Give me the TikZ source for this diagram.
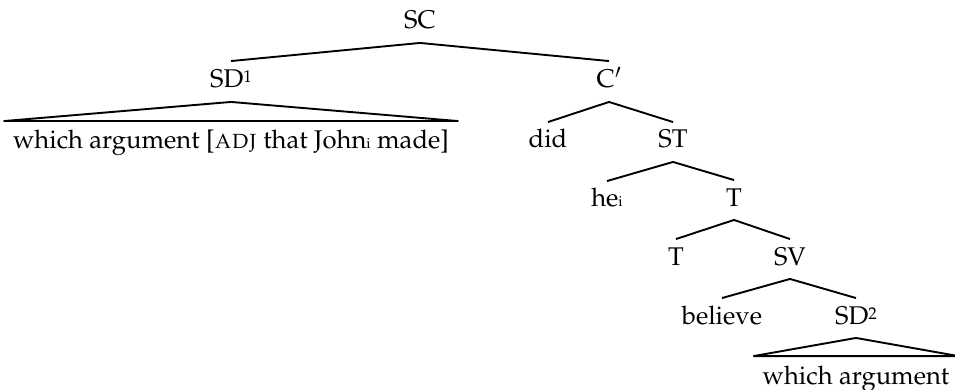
\documentclass[tikz,border=0pt]{standalone}
\usepackage[T1]{fontenc}
\usepackage{mathpazo}
\newcommand\idx[1]{{\fontsize{14.5}{14.5}\selectfont #1}}
\newcommand\supnum[1]{\raisebox{5pt}{\fontsize{17}{17}\selectfont #1}}
\begin{document}
\begin{tikzpicture}[x=1pt,y=-1pt,line width=1.9pt,line join=round,
  every node/.style={inner sep=0pt,text height=25pt,text depth=13pt,anchor=base,
    font=\fontsize{25.6}{30}\selectfont},
  upper/.style={text height=26pt},
  leaf/.style={inner xsep=8pt,text height=27pt}]
\useasboundingbox (0,0) rectangle (955,390);
% labelled nodes of the tree
\node (SC) at (420,29) {SC};
\node[upper] (SD1) at (231,88) {SD\supnum{1}};
\node[upper] (Cbar) at (609,88) {C$'$};
\node (did) at (548,148) {did};
\node (ST) at (673,148) {ST};
\node (he) at (607,207) {he\idx{i}};
\node (T1) at (734,206) {T};
\node (T2) at (676,265) {T};
\node (SV) at (790,265) {SV};
\node (believe) at (722,324) {believe};
\node (SD2) at (856,324) {SD\supnum{2}};
% unanalysed phrases under triangles
\node[leaf] (L1) at (231,149) {which argument [\textsc{adj} that John\idx{i} made]};
\node[leaf] (L2) at (856,384) {which argument};
% branches
\draw (SC.south) -- (SD1.north);
\draw (SC.south) -- (Cbar.north);
\draw (Cbar.south) -- (did.north);
\draw (Cbar.south) -- (ST.north);
\draw (ST.south) -- (he.north);
\draw (ST.south) -- (T1.north);
\draw (T1.south) -- (T2.north);
\draw (T1.south) -- (SV.north);
\draw (SV.south) -- (believe.north);
\draw (SV.south) -- (SD2.north);
% triangles
\draw (SD1.south) -- (L1.north west) -- (L1.north east) -- cycle;
\draw (SD2.south) -- (L2.north west) -- (L2.north east) -- cycle;
\end{tikzpicture}
\end{document}
